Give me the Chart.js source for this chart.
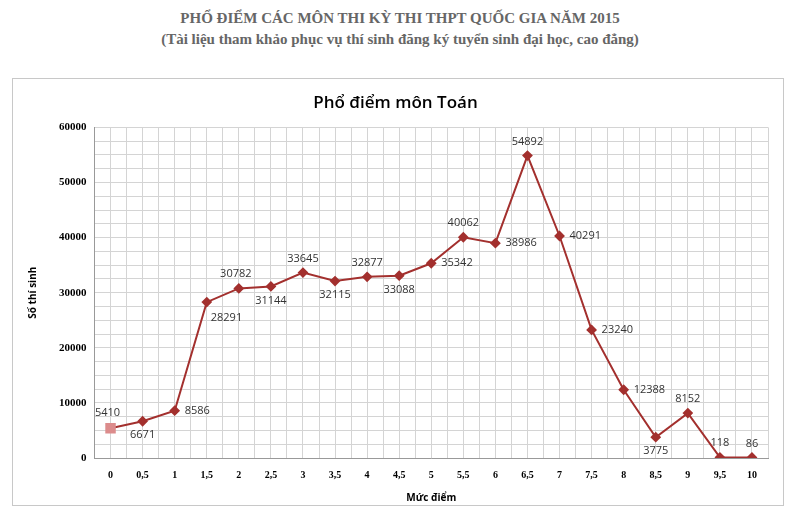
<!DOCTYPE html>
<html><head><meta charset="utf-8">
<script src="https://cdn.jsdelivr.net/npm/chart.js@4"></script>
<style>
body{margin:0;background:#fff;width:800px;height:520px;position:relative;overflow:hidden}
#h{position:absolute;top:8px;left:0;width:800px;text-align:center;font:bold 15px "Liberation Serif",serif;color:#666;line-height:21px}
#box{position:absolute;left:12px;top:78px;width:770px;height:426px;border:1px solid #c8c8c8}
</style></head><body>
<div id="h">PHỔ ĐIỂM CÁC MÔN THI KỲ THI THPT QUỐC GIA NĂM 2015<br>(Tài liệu tham khảo phục vụ thí sinh đăng ký tuyển sinh đại học, cao đẳng)</div>
<div id="box"><canvas id="c" width="770" height="426"></canvas></div>
<script>
var diem = [0,0.5,1,1.5,2,2.5,3,3.5,4,4.5,5,5.5,6,6.5,7,7.5,8,8.5,9,9.5,10];
var soThiSinh = [5410,6671,8586,28291,30782,31144,33645,32115,32877,33088,35342,40062,38986,54892,40291,23240,12388,3775,8152,118,86];
// where each number label sits relative to its point: a=above, b=below, r=right, al=above-left
var labelPos = ['al','b','r','br','al','b','a','b','a','b','r','a','r','a','r','r','r','b','a','a','a'];

var labels = {
  id:'labels',
  afterDatasetsDraw: function(chart){
    var ctx = chart.ctx, meta = chart.getDatasetMeta(0);
    ctx.save();
    ctx.font = '11px "Open Sans",sans-serif';
    ctx.fillStyle = '#333';
    meta.data.forEach(function(p,i){
      var x=p.x, y=p.y, pos=labelPos[i];
      ctx.textBaseline='middle';
      if(pos=='a'){ctx.textAlign='center'; y-=14;}
      else if(pos=='b'){ctx.textAlign='center'; y+=14;}
      else if(pos=='r'){ctx.textAlign='left'; x+=10;}
      else if(pos=='br'){ctx.textAlign='left'; x+=4; y+=16;}
      else if(pos=='al'){ctx.textAlign='center'; x-=3; y-=15;}
      ctx.fillText(String(soThiSinh[i]), x, y);
    });
    ctx.restore();
  }
};

new Chart(document.getElementById('c'), {
  type:'line',
  data:{datasets:[{
    data: diem.map(function(d,i){return {x:d,y:soThiSinh[i]};}),
    borderColor:'#a3302e', borderWidth:2, tension:0,
    pointStyle: diem.map(function(d,i){return i==0?'rect':'rectRot';}),
    pointRadius: diem.map(function(d,i){return i==0?6:4;}),
    pointBackgroundColor: diem.map(function(d,i){return i==0?'#dc8c8c':'#a3302e';}),
    pointBorderColor: diem.map(function(d,i){return i==0?'#dc8c8c':'#a3302e';})
  }]},
  options:{
    responsive:false, animation:false,
    layout:{padding:{left:10,right:15,top:4,bottom:1}},
    plugins:{legend:{display:false},tooltip:{enabled:false},
      title:{display:true,text:'Phổ điểm môn Toán',color:'#000',font:{family:'"Open Sans",sans-serif',size:17,weight:'600'},padding:{top:10,bottom:14}}},
    scales:{
      x:{type:'linear',min:-0.25,max:10.25,
        afterBuildTicks:function(s){var t=[];for(var v=-0.25;v<=10.26;v+=0.25)t.push({value:Math.round(v*100)/100});s.ticks=t;},
        grid:{color:'#d4d4d4',drawTicks:false},border:{color:'#999'},
        ticks:{autoSkip:false,maxRotation:0,padding:11,color:'#000',font:{family:'"Liberation Serif",serif',size:10,weight:'bold'},
          callback:function(v){var r=Math.round(v*100)/100;return (r*2)%1===0 && r>=0 ? String(r).replace('.',','):'';}},
        title:{display:true,text:'Mức điểm',color:'#000',font:{family:'"Open Sans",sans-serif',size:10,weight:'bold'},padding:{top:0,bottom:0}}},
      y:{min:0,max:60000,
        afterBuildTicks:function(s){var t=[];for(var v=0;v<=60000;v+=2500)t.push({value:v});s.ticks=t;},
        grid:{color:'#d4d4d4',drawTicks:false},border:{color:'#999'},
        ticks:{autoSkip:false,padding:8,color:'#000',font:{family:'"Liberation Serif",serif',size:11,weight:'bold'},
          callback:function(v){return v%10000===0?String(v):'';}},
        title:{display:true,text:'Số thí sinh',color:'#000',font:{family:'"Open Sans",sans-serif',size:10,weight:'bold'},padding:{bottom:12}}}
    }
  },
  plugins:[labels]
});
</script>
</body></html>
